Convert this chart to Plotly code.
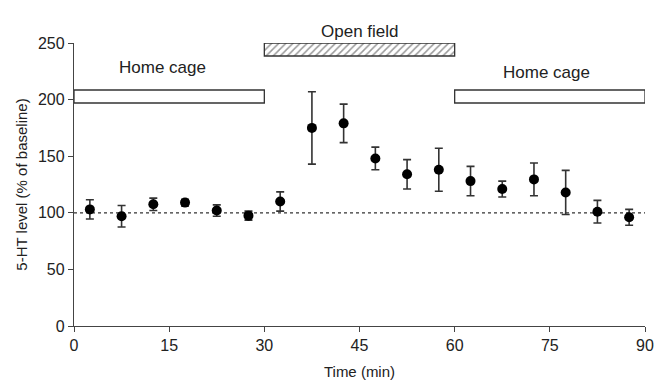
import plotly.graph_objects as go

time_min = [2.5, 7.5, 12.5, 17.5, 22.5, 27.5, 32.5, 37.5, 42.5, 47.5, 52.5, 57.5, 62.5, 67.5, 72.5, 77.5, 82.5, 87.5]
ht_level = [103, 97, 107.5, 109, 102, 97.5, 110, 175, 179, 148, 134, 138, 128, 121, 129.5, 118, 101, 96]
sem = [8.5, 9.5, 5.5, 3, 5, 4, 8.5, 32, 17, 10, 13, 19, 13, 7, 14.5, 19.5, 10, 7]

phase_labels = ["Home cage", "Open field", "Home cage"]
phase_start = [0, 30, 60]
phase_end = [30, 60, 90]
phase_bottom = [197, 238.5, 197]
phase_top = [208.5, 250, 208.5]
phase_label_x = [14, 45, 74.5]
phase_label_y = [228, 260, 224]
phase_hatched = [False, True, False]

x_ticks = [0, 15, 30, 45, 60, 75, 90]
y_ticks = [0, 50, 100, 150, 200, 250]

FONT = "Liberation Sans, Arial"

fig = go.Figure()

for s, e, b, t, h in zip(phase_start, phase_end, phase_bottom, phase_top, phase_hatched):
    fig.add_trace(go.Bar(
        x=[(s + e) / 2], y=[t - b], base=[b], width=[e - s],
        marker=dict(color="white", line=dict(color="#333333", width=1.3),
                    pattern=dict(shape="/" if h else "", fgcolor="#333333", bgcolor="white",
                                 size=5, solidity=0.3)),
        showlegend=False, hoverinfo="skip", cliponaxis=False))

fig.add_trace(go.Scatter(x=[0, 90], y=[100, 100], mode="lines",
                         line=dict(color="#333333", width=1.3, dash="dot"),
                         showlegend=False, hoverinfo="skip"))

fig.add_trace(go.Scatter(
    x=time_min, y=ht_level, mode="markers",
    marker=dict(color="black", size=10),
    error_y=dict(type="data", array=sem, visible=True, color="#333333", thickness=1.6, width=4),
    showlegend=False, cliponaxis=False))

for lab, lx, ly in zip(phase_labels, phase_label_x, phase_label_y):
    fig.add_annotation(x=lx, y=ly / 250.0, yref="paper", xref="x", text=lab, showarrow=False,
                       xanchor="center", yanchor="middle",
                       font=dict(size=17, color="#222222", family=FONT))

fig.update_layout(
    width=655, height=382,
    margin=dict(l=74, r=10, t=43, b=56),
    plot_bgcolor="white", paper_bgcolor="white",
    font=dict(family=FONT, size=16, color="#222222"),
    barmode="overlay",
)
fig.update_xaxes(range=[0, 90], tickvals=x_ticks, showline=True, linecolor="#444444", linewidth=1.3,
                 ticks="outside", ticklen=5, tickcolor="#444444", showgrid=False, zeroline=False,
                 automargin=False,
                 title=dict(text="Time (min)", standoff=13, font=dict(size=15)))
fig.update_yaxes(range=[0, 250], tickvals=y_ticks, showline=True, linecolor="#444444", linewidth=1.3,
                 ticks="outside", ticklen=5, tickcolor="#444444", showgrid=False, zeroline=False,
                 automargin=False,
                 title=dict(text="5-HT level (% of baseline)", standoff=6, font=dict(size=15)))

fig.write_html("out.html")
